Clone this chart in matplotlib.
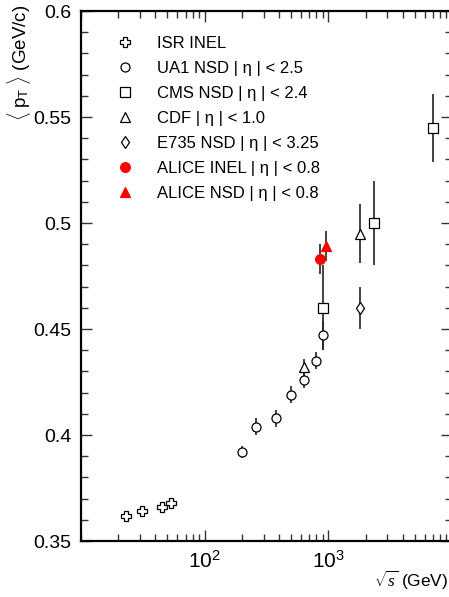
import matplotlib
matplotlib.use("Agg")
import matplotlib.pyplot as plt
from matplotlib.container import ErrorbarContainer
from matplotlib.ticker import FixedLocator, LogLocator, MultipleLocator, NullFormatter

plt.rcParams["font.family"] = ["Liberation Sans", "DejaVu Sans"]
plt.rcParams["mathtext.fontset"] = "custom"
plt.rcParams["mathtext.rm"] = "Liberation Sans"
plt.rcParams["mathtext.it"] = "Liberation Serif:italic"

# data
isr_x = [23, 31, 45, 53]
isr_y = [0.362, 0.364, 0.366, 0.368]

ua1_x = [200, 260, 380, 500, 630, 790, 900]
ua1_y = [0.392, 0.404, 0.408, 0.419, 0.426, 0.435, 0.447]
ua1_err = [0.003, 0.004, 0.004, 0.004, 0.004, 0.004, 0.007]

cms_x = [900, 2360, 7000]
cms_y = [0.460, 0.500, 0.545]
cms_err = [0.020, 0.020, 0.016]

cdf_x = [630, 1800]
cdf_y = [0.432, 0.495]
cdf_err = [0.004, 0.014]

e735_x = [1800]
e735_y = [0.460]
e735_err = [0.010]

alice_inel_x = [850]
alice_inel_y = [0.483]
alice_inel_err = [0.007]

alice_nsd_x = [960]
alice_nsd_y = [0.489]
alice_nsd_err = [0.007]

fig = plt.figure(figsize=(4.49, 5.97), dpi=100)
ax = fig.add_axes([81 / 449, 56 / 597, 371 / 449, 530 / 597])

eb = dict(ls="none", ecolor="#222222", elinewidth=1.2, capsize=0, mew=0.9)

ax.plot(isr_x, isr_y, ls="none", marker="P", ms=7, mfc="white", mec="black", mew=0.9,
        label="ISR INEL")
ax.errorbar(ua1_x, ua1_y, yerr=ua1_err, marker="o", ms=6.5, mfc="white", mec="black",
            label="UA1 NSD | η | < 2.5", **eb)
ax.errorbar(cms_x, cms_y, yerr=cms_err, marker="s", ms=7, mfc="white", mec="black",
            label="CMS NSD | η | < 2.4", **eb)
ax.errorbar(cdf_x, cdf_y, yerr=cdf_err, marker="^", ms=7, mfc="white", mec="black",
            label="CDF | η | < 1.0", **eb)
ax.errorbar(e735_x, e735_y, yerr=e735_err, marker="d", ms=6, mfc="white", mec="black",
            label="E735 NSD | η | < 3.25", **eb)
ax.errorbar(alice_inel_x, alice_inel_y, yerr=alice_inel_err, marker="o", ms=7, mfc="red",
            mec="red", label="ALICE INEL | η | < 0.8", **eb)
ax.errorbar(alice_nsd_x, alice_nsd_y, yerr=alice_nsd_err, marker="^", ms=7, mfc="red",
            mec="red", label="ALICE NSD | η | < 0.8", **eb)

ax.set_xscale("log")
ax.set_xlim(10, 1e4)
ax.set_ylim(0.35, 0.6)

ax.xaxis.set_major_locator(FixedLocator([100, 1000]))
ax.xaxis.set_minor_locator(LogLocator(base=10, subs=range(1, 10), numticks=20))
ax.xaxis.set_minor_formatter(NullFormatter())
ax.yaxis.set_minor_locator(MultipleLocator(0.01))
ax.set_yticks([0.35, 0.4, 0.45, 0.5, 0.55, 0.6])
ax.set_yticklabels(["0.35", "0.4", "0.45", "0.5", "0.55", "0.6"])
ax.set_xticklabels([r"$10^2$", r"$10^3$"])

ax.tick_params(which="both", direction="in", top=True, right=True, width=1,
               colors="#333333", labelcolor="black")
ax.tick_params(axis="y", labelsize=14)
ax.tick_params(axis="x", labelsize=15)
ax.tick_params(which="major", length=8, pad=7)
ax.tick_params(which="minor", length=5)
for s in ax.spines.values():
    s.set_linewidth(1.6)

# legend shows markers only
handles, labels = ax.get_legend_handles_labels()
handles = [h[0] if isinstance(h, ErrorbarContainer) else h for h in handles]
ax.legend(handles, labels, loc="upper left", bbox_to_anchor=(0.055, 0.966), frameon=False,
          fontsize=12, handletextpad=0.95, labelspacing=0.6, numpoints=1,
          borderaxespad=0)

fig.text(0.012, 0.992, r"$\langle\ \mathrm{p}_{\mathrm{T}}\ \rangle$ (GeV/c)", rotation=90,
         ha="left", va="top", fontsize=13.5)
fig.text(0.998, 0.028, r"$\sqrt{s}$ (GeV)", ha="right", va="center", fontsize=12.5)

fig.savefig("out.png", dpi=100)
